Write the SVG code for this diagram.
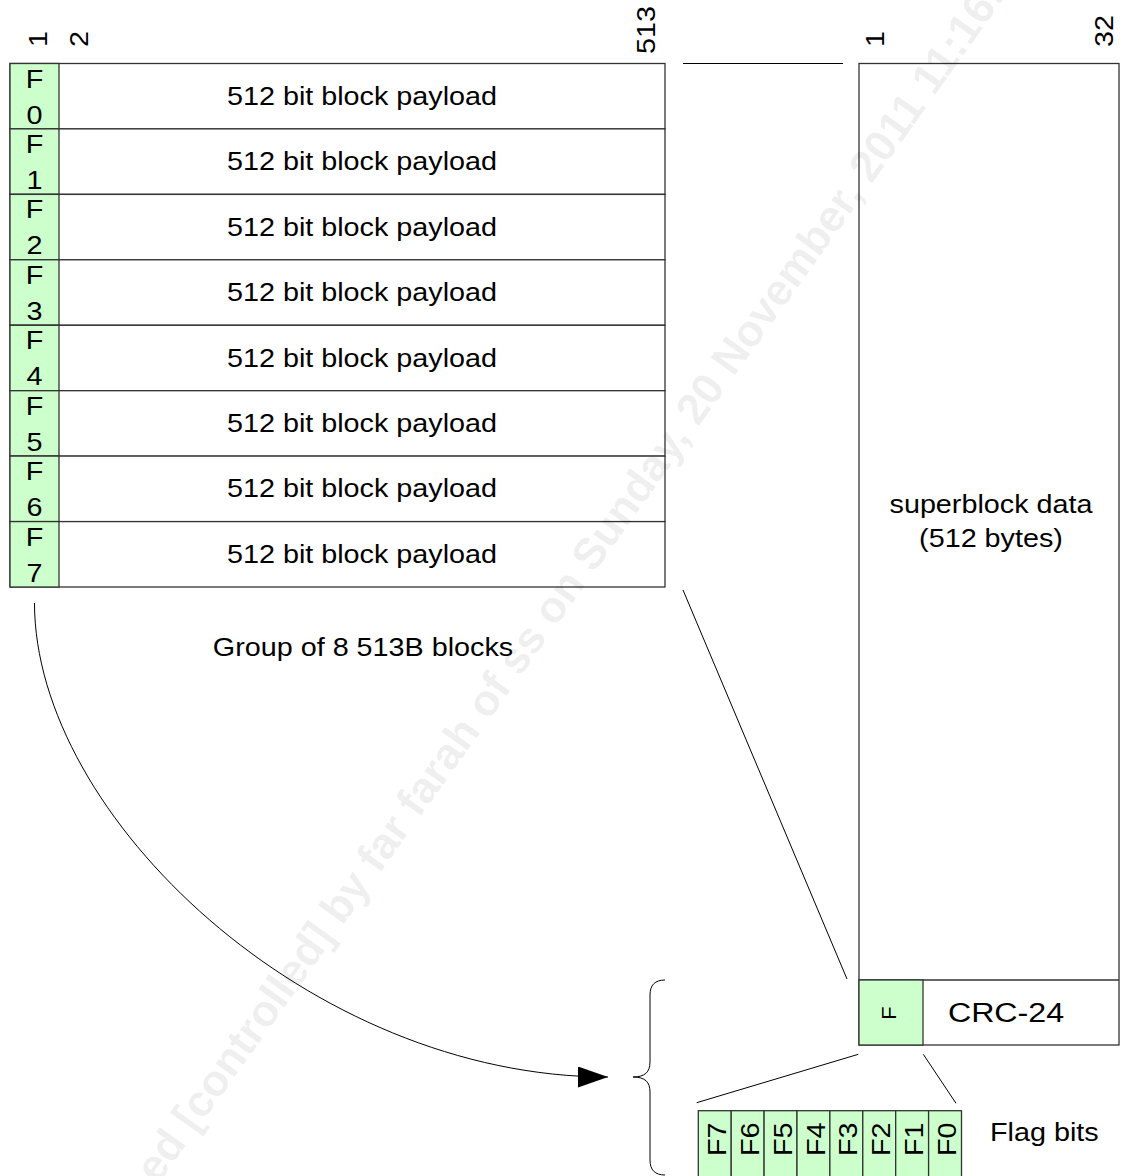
<svg xmlns="http://www.w3.org/2000/svg" width="1131" height="1176" viewBox="0 0 1131 1176">
<style>
.t{font-family:'Liberation Sans',Arial,sans-serif;font-size:25px;fill:#000}
.m{text-anchor:middle}
.box{fill:#fff;stroke:#333;stroke-width:1.3}
.g{fill:#ccffcc;stroke:#333;stroke-width:1.3}
.c{fill:none;stroke:#000;stroke-width:1}
.wm{font-family:'Liberation Sans',Arial,sans-serif;font-size:44px;font-weight:bold;fill:#000;fill-opacity:0.075}
</style>
<defs>
<marker id="ah" markerUnits="userSpaceOnUse" markerWidth="30" markerHeight="21" refX="30" refY="10.5" orient="auto">
<path d="M0,0 L30,10.5 L0,21 z" fill="#000"/>
</marker>
</defs>
<rect width="1131" height="1176" fill="#fff"/>

<g id="bit-labels">
<text class="t" transform="translate(47,47) rotate(-90) scale(1.15,1)">1</text>
<text class="t" transform="translate(88,47) rotate(-90) scale(1.15,1)">2</text>
<text class="t" transform="translate(655,54) rotate(-90) scale(1.15,1)">513</text>
<text class="t" transform="translate(884,47) rotate(-90) scale(1.15,1)">1</text>
<text class="t" transform="translate(1113,47) rotate(-90) scale(1.15,1)">32</text>
</g>

<g id="block-0">
<rect class="box" x="10" y="63.5" width="655" height="65.4"/>
<rect class="g" x="10" y="63.5" width="49" height="65.4"/>
<text class="t m" transform="translate(34.5,87.5) scale(1.15,1)">F</text>
<text class="t m" transform="translate(34.5,123.5) scale(1.15,1)">0</text>
<text class="t m" transform="translate(362,104.7) scale(1.15,1)">512 bit block payload</text>
</g>
<g id="block-1">
<rect class="box" x="10" y="128.9" width="655" height="65.4"/>
<rect class="g" x="10" y="128.9" width="49" height="65.4"/>
<text class="t m" transform="translate(34.5,152.9) scale(1.15,1)">F</text>
<text class="t m" transform="translate(34.5,188.9) scale(1.15,1)">1</text>
<text class="t m" transform="translate(362,170.1) scale(1.15,1)">512 bit block payload</text>
</g>
<g id="block-2">
<rect class="box" x="10" y="194.4" width="655" height="65.4"/>
<rect class="g" x="10" y="194.4" width="49" height="65.4"/>
<text class="t m" transform="translate(34.5,218.4) scale(1.15,1)">F</text>
<text class="t m" transform="translate(34.5,254.4) scale(1.15,1)">2</text>
<text class="t m" transform="translate(362,235.6) scale(1.15,1)">512 bit block payload</text>
</g>
<g id="block-3">
<rect class="box" x="10" y="259.8" width="655" height="65.4"/>
<rect class="g" x="10" y="259.8" width="49" height="65.4"/>
<text class="t m" transform="translate(34.5,283.8) scale(1.15,1)">F</text>
<text class="t m" transform="translate(34.5,319.8) scale(1.15,1)">3</text>
<text class="t m" transform="translate(362,301) scale(1.15,1)">512 bit block payload</text>
</g>
<g id="block-4">
<rect class="box" x="10" y="325.3" width="655" height="65.4"/>
<rect class="g" x="10" y="325.3" width="49" height="65.4"/>
<text class="t m" transform="translate(34.5,349.3) scale(1.15,1)">F</text>
<text class="t m" transform="translate(34.5,385.3) scale(1.15,1)">4</text>
<text class="t m" transform="translate(362,366.5) scale(1.15,1)">512 bit block payload</text>
</g>
<g id="block-5">
<rect class="box" x="10" y="390.7" width="655" height="65.4"/>
<rect class="g" x="10" y="390.7" width="49" height="65.4"/>
<text class="t m" transform="translate(34.5,414.7) scale(1.15,1)">F</text>
<text class="t m" transform="translate(34.5,450.7) scale(1.15,1)">5</text>
<text class="t m" transform="translate(362,431.9) scale(1.15,1)">512 bit block payload</text>
</g>
<g id="block-6">
<rect class="box" x="10" y="456.1" width="655" height="65.5"/>
<rect class="g" x="10" y="456.1" width="49" height="65.5"/>
<text class="t m" transform="translate(34.5,480.1) scale(1.15,1)">F</text>
<text class="t m" transform="translate(34.5,516.1) scale(1.15,1)">6</text>
<text class="t m" transform="translate(362,497.3) scale(1.15,1)">512 bit block payload</text>
</g>
<g id="block-7">
<rect class="box" x="10" y="521.6" width="655" height="65.4"/>
<rect class="g" x="10" y="521.6" width="49" height="65.4"/>
<text class="t m" transform="translate(34.5,545.6) scale(1.15,1)">F</text>
<text class="t m" transform="translate(34.5,581.6) scale(1.15,1)">7</text>
<text class="t m" transform="translate(362,562.8) scale(1.15,1)">512 bit block payload</text>
</g>

<g id="group-label">
<text class="t m" transform="translate(363,656) scale(1.15,1)">Group of 8 513B blocks</text>
</g>

<g id="superblock">
<rect class="box" x="859" y="63.5" width="260" height="981.5"/>
<text class="t m" transform="translate(991,513) scale(1.15,1)">superblock data</text>
<text class="t m" transform="translate(991,547) scale(1.15,1)">(512 bytes)</text>
<line x1="859" y1="980" x2="1119" y2="980" stroke="#333" stroke-width="1.3"/>
<rect class="g" x="859" y="980" width="64" height="65"/>
<text class="t m" style="font-size:20px" transform="translate(895.5,1013) rotate(-90) scale(1.1,1)">F</text>
<text class="t m" style="font-size:28px" transform="translate(1006,1022) scale(1.15,1)">CRC-24</text>
</g>

<g id="flag-bits">
<rect class="g" x="698.3" y="1110.7" width="32.9" height="70"/>
<rect class="g" x="731.2" y="1110.7" width="32.9" height="70"/>
<rect class="g" x="764.1" y="1110.7" width="32.9" height="70"/>
<rect class="g" x="797" y="1110.7" width="32.9" height="70"/>
<rect class="g" x="829.9" y="1110.7" width="32.9" height="70"/>
<rect class="g" x="862.8" y="1110.7" width="32.9" height="70"/>
<rect class="g" x="895.7" y="1110.7" width="32.9" height="70"/>
<rect class="g" x="928.6" y="1110.7" width="32.9" height="70"/>
<text class="t" transform="translate(725.8,1156) rotate(-90) scale(1.15,1)">F7</text>
<text class="t" transform="translate(758.7,1156) rotate(-90) scale(1.15,1)">F6</text>
<text class="t" transform="translate(791.6,1156) rotate(-90) scale(1.15,1)">F5</text>
<text class="t" transform="translate(824.5,1156) rotate(-90) scale(1.15,1)">F4</text>
<text class="t" transform="translate(857.4,1156) rotate(-90) scale(1.15,1)">F3</text>
<text class="t" transform="translate(890.3,1156) rotate(-90) scale(1.15,1)">F2</text>
<text class="t" transform="translate(923.2,1156) rotate(-90) scale(1.15,1)">F1</text>
<text class="t" transform="translate(956.1,1156) rotate(-90) scale(1.15,1)">F0</text>
<text class="t" transform="translate(990,1140.5) scale(1.15,1)">Flag bits</text>
</g>

<g id="brace">
<path class="c" d="M665,980 C655,980 650,985 650,995 L650,1062 C650,1072 645,1077 633,1077 C645,1077 650,1082 650,1092 L650,1160 C650,1170 655,1175 665,1175"/>
</g>

<g id="connectors">
<line class="c" x1="683" y1="63.5" x2="843" y2="63.5"/>
<line class="c" x1="683" y1="590" x2="847" y2="979"/>
<line class="c" x1="858.3" y1="1054.3" x2="696.7" y2="1102.7"/>
<line class="c" x1="923.3" y1="1054.3" x2="956" y2="1103.3"/>
<path class="c" d="M34.5,603 C34.5,816 310,1077 608,1077" marker-end="url(#ah)"/>
</g>

<g id="watermark">
<text class="wm" transform="translate(157.6,1185) rotate(-54.5)">ed [controlled] by far farah of ss on Sunday, 20 November, 2011 11:16:4</text>
</g>
</svg>
